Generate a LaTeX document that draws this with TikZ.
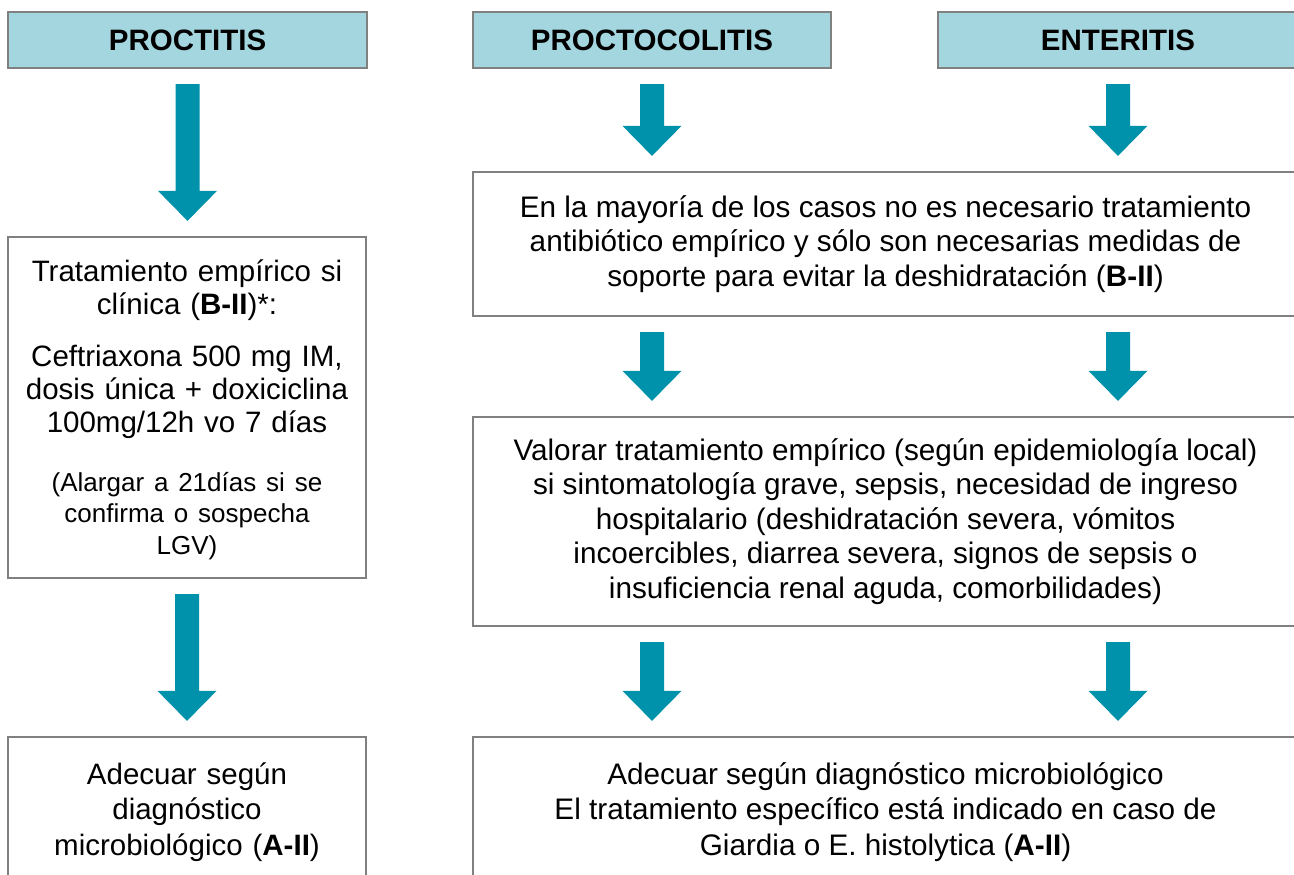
\documentclass[tikz,border=0pt]{standalone}
\usepackage{fontspec}
\setmainfont{Liberation Sans}
\usetikzlibrary{calc}
\definecolor{hdrfill}{HTML}{A4D6E0}
\definecolor{arrowteal}{HTML}{0092AA}
\definecolor{boxgray}{HTML}{808080}
\tikzset{
  hdrbox/.style={draw=boxgray, line width=2.2pt, fill=hdrfill, inner sep=0pt,
    font=\fontsize{29.5}{34}\selectfont\bfseries},
  txtbox/.style={draw=boxgray, line width=2.2pt, fill=white, inner sep=0pt,
    align=center, font=\fontsize{29.7}{34.5}\selectfont},
  plaintext/.style={inner sep=0pt, align=center},
  arrowfill/.style={fill=arrowteal}
}
% block arrow from node anchor #1 to node anchor #2 (vertical), 15pt gaps
\newcommand\blockarrow[2]{%
  \fill[arrowfill] let \p1=(#1), \p2=(#2) in
    (\x1-12pt,\y1-15pt) -- (\x1+12pt,\y1-15pt) -- (\x1+12pt,\y2+45pt) --
    (\x1+29.5pt,\y2+45pt) -- (\x1,\y2+15pt) -- (\x1-29.5pt,\y2+45pt) --
    (\x1-12pt,\y2+45pt) -- cycle;}
\begin{document}
\begin{tikzpicture}[x=1pt,y=-1pt]
\useasboundingbox (0,0) rectangle (1294,875);
% headers
\node[hdrbox, minimum width=359pt, minimum height=56pt] (h1) at (187.5,40) {PROCTITIS};
\node[hdrbox, minimum width=358pt, minimum height=56pt] (h2) at (652,40) {PROCTOCOLITIS};
\node[hdrbox, minimum width=360pt, minimum height=56pt] (h3) at (1118,40) {ENTERITIS};
% left column
\node[txtbox, minimum width=358pt, minimum height=341pt] (l1) at (187,407.5) {};
\node[plaintext, text width=350pt, font=\fontsize{29.5}{33}\selectfont] (l1text) at (187,410) {%
  Tratamiento empírico si\\ clínica (\textbf{B-II})*:\par\vspace{19pt}
  Ceftriaxona 500 mg IM,\\ dosis única + doxiciclina\\ 100mg/12h vo 7 días\par\vspace{27pt}
  {\fontsize{26}{31.5}\selectfont (Alargar a 21días si se\\ confirma o sospecha\\ LGV)\par}};
\node[txtbox, minimum width=358pt, minimum height=150pt, text width=350pt,
  font=\fontsize{29.5}{35.5}\selectfont] (l2) at (187,812) {%
  Adecuar según\\ diagnóstico\\ microbiológico (\textbf{A-II})};
% right column
\node[txtbox, minimum width=825pt, minimum height=144pt] (r1) at (885.5,244) {%
  En la mayoría de los casos no es necesario tratamiento\\
  antibiótico empírico y sólo son necesarias medidas de\\
  soporte para evitar la deshidratación (\textbf{B-II})};
\node[txtbox, minimum width=825pt, minimum height=209pt] (r2) at (885.5,521.5) {%
  Valorar tratamiento empírico (según epidemiología local)\\
  si sintomatología grave, sepsis, necesidad de ingreso\\
  hospitalario (deshidratación severa, vómitos\\
  incoercibles, diarrea severa, signos de sepsis o\\
  insuficiencia renal aguda, comorbilidades)};
\node[txtbox, minimum width=825pt, minimum height=150pt,
  font=\fontsize{29.7}{35.5}\selectfont] (r3) at (885.5,812) {%
  Adecuar según diagnóstico microbiológico\\
  El tratamiento específico está indicado en caso de\\
  Giardia o E. histolytica (\textbf{A-II})};
% arrows
\blockarrow{h1.south}{l1.north}
\blockarrow{l1.south}{l2.north}
\blockarrow{h2.south}{h2.south |- r1.north}
\blockarrow{h3.south}{h3.south |- r1.north}
\blockarrow{r1.south -| h2.south}{r2.north -| h2.south}
\blockarrow{r1.south -| h3.south}{r2.north -| h3.south}
\blockarrow{r2.south -| h2.south}{r3.north -| h2.south}
\blockarrow{r2.south -| h3.south}{r3.north -| h3.south}
\end{tikzpicture}
\end{document}
